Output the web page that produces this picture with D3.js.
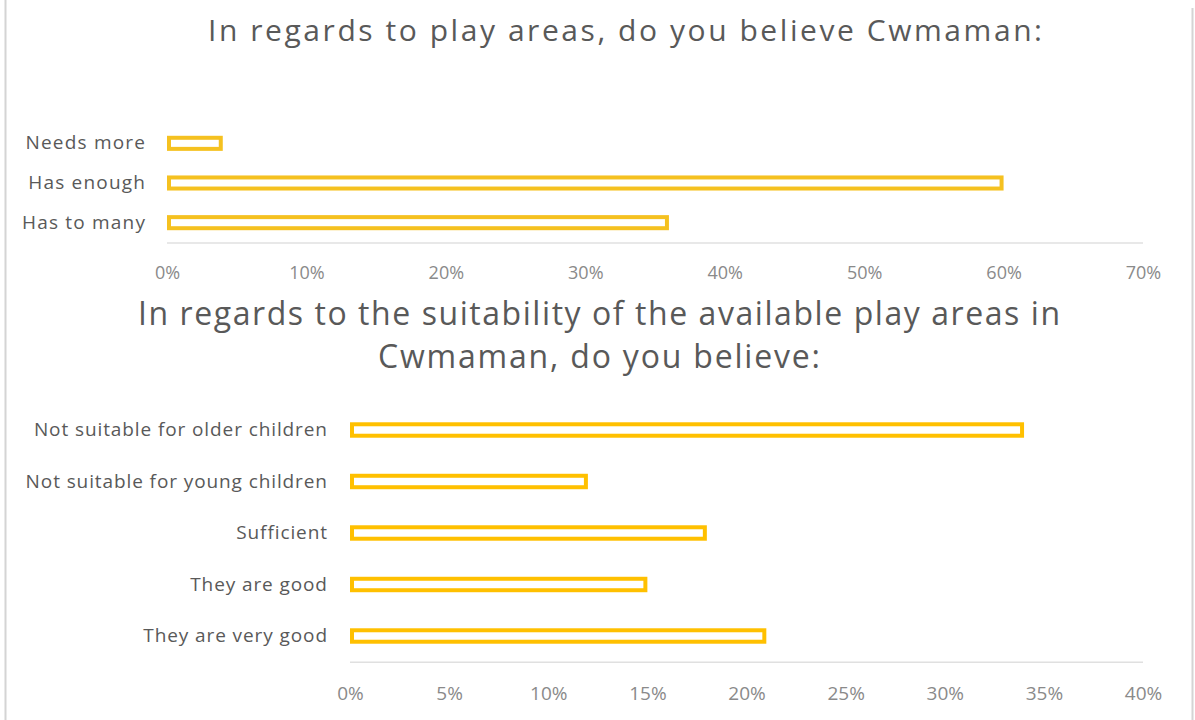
<!DOCTYPE html>
<html><head><meta charset="utf-8">
<script src="https://cdn.jsdelivr.net/npm/d3@7"></script>
<style>body{margin:0;background:#fff}svg{display:block}</style>
</head><body>
<svg id="c" width="1195" height="720"></svg>
<script>
const topCategories = ["Needs more", "Has enough", "Has to many"];
const topValues = [0.04, 0.60, 0.36];
const topTicks = [0, 0.1, 0.2, 0.3, 0.4, 0.5, 0.6, 0.7];
const topTitle = ["In regards to play areas, do you believe Cwmaman:"];

const botCategories = ["Not suitable for older children", "Not suitable for young children", "Sufficient", "They are good", "They are very good"];
const botValues = [0.34, 0.12, 0.18, 0.15, 0.21];
const botTicks = [0, 0.05, 0.1, 0.15, 0.2, 0.25, 0.3, 0.35, 0.4];
const botTitle = ["In regards to the suitability of the available play areas in", "Cwmaman, do you believe:"];

const svg = d3.select("#c");
const gold = "#FFC000";
const textCol = "#595959";
const tickCol = "#8a8a8a";
const font = "'Open Sans', Lato, sans-serif";

svg.append("line").attr("x1",5.5).attr("x2",5.5).attr("y1",0).attr("y2",720).attr("stroke","#d4d4d4").attr("stroke-width",2);
svg.append("line").attr("x1",1192.5).attr("x2",1192.5).attr("y1",8).attr("y2",720).attr("stroke","#d4d4d4").attr("stroke-width",2);

function drawChart(cfg){
  const g = svg.append("g");
  const x = d3.scaleLinear().domain(cfg.domain).range(cfg.xRange);
  const y = d3.scaleBand().domain(cfg.cats).range(cfg.yRange).paddingInner(cfg.pi).paddingOuter(cfg.po);
  cfg.title.forEach((t,i)=>{
    g.append("text").attr("x",cfg.titleX).attr("y",cfg.titleY[i]).attr("text-anchor","middle")
      .attr("font-family",font).attr("font-size",cfg.titleSize).attr("fill",textCol)
      .attr("textLength",cfg.titleLen[i]).attr("lengthAdjust","spacing").text(t);
  });
  g.append("line").attr("x1",x(cfg.domain[0])).attr("x2",x(cfg.domain[1]))
    .attr("y1",cfg.yRange[1]+0.5).attr("y2",cfg.yRange[1]+0.5).attr("stroke","#e0e0e0").attr("stroke-width",1.5);
  const xAxis = d3.axisBottom(x).tickValues(cfg.ticks).tickFormat(d3.format(".0%")).tickSize(0).tickPadding(0);
  const ax = g.append("g").attr("transform",`translate(0,${cfg.tickY})`).call(xAxis);
  ax.select(".domain").remove();
  ax.selectAll("text").attr("font-family",font).attr("font-size",cfg.tickSize).attr("fill",tickCol).attr("dy","0");
  const yAxis = d3.axisLeft(y).tickSize(0).tickPadding(0);
  const ay = g.append("g").attr("transform",`translate(${cfg.labelX + cfg.ls},0)`).call(yAxis);
  ay.select(".domain").remove();
  ay.selectAll("text").attr("font-family",font).attr("font-size",cfg.labelSize).attr("fill",textCol)
    .attr("letter-spacing",cfg.ls);
  g.selectAll("rect.bar").data(cfg.cats.map((c,i)=>({c,v:cfg.values[i]}))).join("rect")
    .attr("class","bar")
    .attr("x",x(0)+cfg.sw/2).attr("y",d=>y(d.c)+cfg.sw/2)
    .attr("width",d=>x(d.v)-x(0)-cfg.sw).attr("height",y.bandwidth()-cfg.sw)
    .attr("fill","#fff").attr("stroke",cfg.color).attr("stroke-width",cfg.sw);
}

drawChart({
  cats: topCategories, values: topValues, ticks: topTicks, title: topTitle,
  domain:[0,0.7], xRange:[167,1143], yRange:[123.5,242.5], pi:0.62, po:0.31,
  titleX:625, titleY:[41], titleSize:30, titleLen:[834],
  tickY:279, tickSize:18, labelX:145, labelSize:19, ls:1.2, sw:4, color:"#F5C120"
});
drawChart({
  cats: botCategories, values: botValues, ticks: botTicks, title: botTitle,
  domain:[0,0.4], xRange:[350,1143], yRange:[404.25,661.75], pi:0.7, po:0.35,
  titleX:599, titleY:[325,368], titleSize:32, titleLen:[922,442],
  tickY:700, tickSize:19, labelX:327, labelSize:19, ls:0.9, sw:4, color:gold
});
</script>
</body></html>
